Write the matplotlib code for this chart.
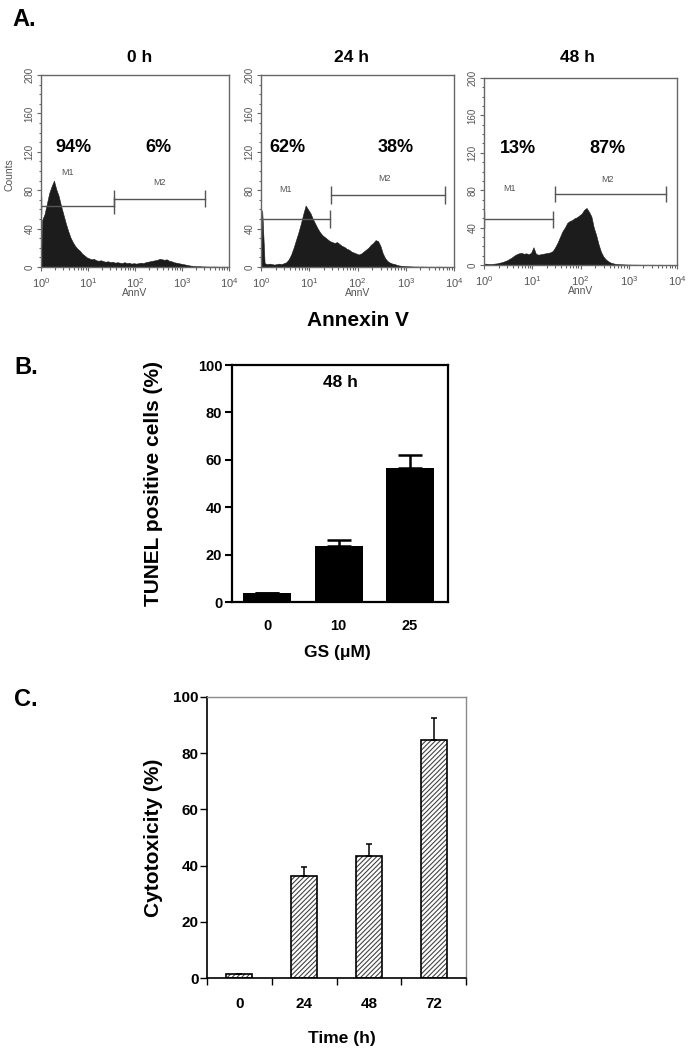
import matplotlib
matplotlib.use("Agg")
import matplotlib.pyplot as plt
import numpy as np
from matplotlib.ticker import FixedLocator, LogLocator, MultipleLocator, NullFormatter

plt.rcParams["font.family"] = ["Liberation Sans", "DejaVu Sans"]
plt.rcParams["mathtext.default"] = "regular"
plt.rcParams["hatch.linewidth"] = 0.8

W, H = 691, 1050

# ---- A: Annexin V histograms, counts per log-channel bin (0.05 decade wide, 10^0..10^4)
HIST_TITLES = ["0 h", "24 h", "48 h"]
COUNTS_0H = [
    49, 55, 66, 77, 84, 90, 81, 74, 64, 55,
    46, 38, 31, 26, 22, 19, 17, 14, 12, 10,
    9, 8, 8.5, 7, 6.5, 7, 6, 5.5, 6, 5,
    5.5, 4.5, 5, 4.5, 4, 5, 4, 4.5, 3.5, 4,
    3.5, 4, 4.5, 4, 5, 5.5, 6, 6.5, 7, 7.5,
    8.5, 8, 7.5, 8, 6.5, 6, 5, 4.5, 4, 3.5,
    3, 2.5, 2, 1.5, 1.2, 1, 0.8, 0.8, 0.6, 0.6,
    0.5, 0.5, 0.4, 0.5, 0.4, 0.4, 0.3, 0.4, 0.3, 0.3,
]
COUNTS_24H = [
    59, 4, 3, 3.5, 3, 2.5, 3, 3.5, 3, 4,
    5, 8, 13, 20, 28, 36, 45, 55, 64, 60,
    56, 50, 45, 40, 36, 33, 31, 29, 27, 26,
    25, 26, 24, 22, 21, 19, 18, 16, 15, 14,
    13, 14, 16, 18, 20, 23, 25, 28, 27, 22,
    14, 9, 6, 4.5, 3.5, 3, 2, 1.5, 1.2, 1,
    0.8, 0.7, 0.6, 0.5, 0.5, 0.4, 0.5, 0.4, 0.4, 0.3,
    0.4, 0.3, 0.3, 0.4, 0.3, 0.3, 0.3, 0.2, 0.3, 0.2,
]
COUNTS_48H = [
    1.5, 1.2, 1, 1.2, 1.5, 1.8, 2.5, 3, 4, 5,
    6.5, 8, 10, 11.5, 12.5, 13, 12, 12.5, 11.5, 13,
    19, 12, 11, 11.5, 12, 12.5, 13, 13.5, 15, 19,
    24, 30, 36, 40, 45, 47, 48, 50, 51, 53,
    55, 59, 61, 57, 52, 40, 32, 22, 14, 9,
    6, 4, 2.5, 1.8, 1.2, 1, 0.8, 0.7, 0.6, 0.5,
    0.5, 0.4, 0.4, 0.4, 0.3, 0.3, 0.3, 0.3, 0.3, 0.3,
    0.3, 0.2, 0.3, 0.3, 0.2, 0.2, 0.3, 0.2, 0.2, 0.2,
]
M1_RANGE = [(1, 35.5), (1, 27.5), (1, 27.5)]
M2_RANGE = [(35.5, 3090), (28.8, 6450), (30.2, 5890)]
M1_LEVEL = [64, 50, 49]
M2_LEVEL = [71, 75, 76]
PCT_M1 = ["94%", "62%", "13%"]
PCT_M2 = ["6%", "38%", "87%"]

# label anchor positions (AnnV units) for M1/M2 tags and percentages
M1_TAG_X = [3.7, 3.2, 3.3]
M2_TAG_X = [340, 370, 355]
M1_TAG_Y = [98, 81, 82]
M2_TAG_Y = [88, 92, 91]
PCT_M1_X = [4.8, 3.5, 5.0]
PCT_M2_X = [310, 630, 355]

# ---- B: TUNEL
GS_DOSE = ["0", "10", "25"]
TUNEL_MEAN = [4, 23.5, 56.5]
TUNEL_ERR = [0, 2.5, 5.5]

# ---- C: cytotoxicity
TIME_H = ["0", "24", "48", "72"]
CYTO_MEAN = [1.3, 36.2, 43.3, 84.6]
CYTO_ERR = [0, 3.4, 4.4, 8.0]


def fx(px):
    return px / W


def fy(py):
    return 1 - py / H


def hist_panel(fig, rect, counts, title_x, idx, show_ylabel):
    l, t, r, b = rect
    ax = fig.add_axes([fx(l), fy(b), fx(r - l), (b - t) / H])
    n = len(counts)
    centers = 10 ** ((np.arange(n) + 0.5) * 4.0 / n)
    xs = np.concatenate([[1.0], centers, [1e4]])
    ys = np.concatenate([[0], counts, [0]])
    ax.fill_between(xs, ys, 0, color="#1c1c1c", lw=0.4, edgecolor="#1c1c1c")
    ax.set_xscale("log")
    ax.set_xlim(1, 1e4)
    ax.set_ylim(0, 200)
    grey = "#666666"
    for s in ax.spines.values():
        s.set_color(grey)
        s.set_linewidth(1.0)
    ax.xaxis.set_major_locator(LogLocator(base=10, numticks=10))
    ax.xaxis.set_minor_locator(LogLocator(base=10, subs=np.arange(2, 10), numticks=10))
    ax.xaxis.set_minor_formatter(NullFormatter())
    ax.yaxis.set_major_locator(MultipleLocator(40))
    ax.yaxis.set_minor_locator(MultipleLocator(10))
    ax.tick_params(which="both", color=grey, labelcolor="#555555", labelsize=8,
                   direction="out", width=0.8)
    ax.tick_params(which="major", length=3)
    ax.tick_params(which="minor", length=1.8)
    ax.tick_params(axis="y", labelsize=7, labelrotation=90, pad=1.5)
    for lab in ax.get_yticklabels():
        lab.set_va("center")
    ax.set_xlabel("AnnV", fontsize=7.5, color="#555555", labelpad=-1)
    if show_ylabel:
        ax.set_ylabel("Counts", fontsize=7.5, color="#555555")
        ax.yaxis.set_label_coords(-0.14, 0.48)

    # gate markers
    lc = "#555555"
    for (x0, x1), y in ((M1_RANGE[idx], M1_LEVEL[idx]), (M2_RANGE[idx], M2_LEVEL[idx])):
        ax.plot([x0, x1], [y, y], color=lc, lw=1.0)
        ax.vlines([x0, x1], y - 9, y + 9, color=lc, lw=1.0)
    ax.text(M1_TAG_X[idx], M1_TAG_Y[idx], "M1", fontsize=6.5, color="#555555",
            ha="center", va="center")
    ax.text(M2_TAG_X[idx], M2_TAG_Y[idx], "M2", fontsize=6.5, color="#555555",
            ha="center", va="center")
    ax.text(PCT_M1_X[idx], 125, PCT_M1[idx], fontsize=13, fontweight="bold",
            ha="center", va="center")
    ax.text(PCT_M2_X[idx], 125, PCT_M2[idx], fontsize=13, fontweight="bold",
            ha="center", va="center")
    fig.text(fx(title_x), fy(58), HIST_TITLES[idx], fontsize=12.5, fontweight="bold",
             ha="center", va="center")
    return ax


fig = plt.figure(figsize=(W / 100, H / 100), dpi=100)

hist_panel(fig, (41, 75, 229, 267), COUNTS_0H, 140, 0, True)
hist_panel(fig, (261, 75, 454, 267), COUNTS_24H, 352, 1, False)
hist_panel(fig, (484, 78, 677, 265), COUNTS_48H, 577, 2, False)
fig.text(fx(358), fy(320), "Annexin V", fontsize=15, fontweight="bold",
         ha="center", va="center")

# panel letters
for lab, px, py in (("A.", 12, 20), ("B.", 14, 368), ("C.", 14, 700)):
    fig.text(fx(px), fy(py), lab, fontsize=17, fontweight="bold", ha="left", va="center")

# ---- B
axb = fig.add_axes([fx(232), fy(602), fx(216), 237 / H])
xb = np.arange(len(GS_DOSE))
axb.bar(xb, TUNEL_MEAN, width=0.67, color="black", zorder=2)
axb.errorbar(xb, TUNEL_MEAN, yerr=[np.zeros(len(xb)), TUNEL_ERR], fmt="none",
             ecolor="black", elinewidth=1.8, capsize=8.5, capthick=1.8, zorder=3)
axb.set_xlim(-0.49, 2.53)
axb.set_ylim(0, 100)
axb.set_xticks(xb)
axb.set_xticklabels(GS_DOSE, fontweight="bold", fontsize=10.5)
axb.set_yticks(np.arange(0, 101, 20))
axb.set_yticklabels([str(v) for v in range(0, 101, 20)], fontweight="bold", fontsize=10.5)
axb.tick_params(axis="x", length=0, pad=12)
axb.tick_params(axis="y", length=5, width=1.5, direction="out", pad=2)
for s in axb.spines.values():
    s.set_linewidth(1.6)
axb.set_ylabel("TUNEL positive cells (%)", fontsize=15, fontweight="bold")
axb.yaxis.set_label_coords(-0.32, 0.5)
axb.text(0.5, 0.925, "48 h", transform=axb.transAxes, fontsize=12.5,
         fontweight="bold", ha="center", va="center")
fig.text(fx(337), fy(653), "GS (\u03bcM)", fontsize=12.5, fontweight="bold",
         ha="center", va="center")

# ---- C
axc = fig.add_axes([fx(207), fy(978), fx(259), 281 / H])
xc = np.arange(len(TIME_H))
axc.bar(xc, CYTO_MEAN, width=0.4, facecolor="white", edgecolor="#444444",
        hatch="///////", linewidth=0, zorder=2)
axc.bar(xc, CYTO_MEAN, width=0.4, fill=False, edgecolor="black", linewidth=1.2, zorder=3)
axc.errorbar(xc, CYTO_MEAN, yerr=[np.zeros(len(xc)), CYTO_ERR], fmt="none",
             ecolor="black", elinewidth=1.1, capsize=2, capthick=1.1, zorder=4)
axc.set_xlim(-0.5, 3.5)
axc.set_ylim(0, 100)
axc.set_xticks(xc)
axc.set_xticklabels(TIME_H, fontweight="bold", fontsize=11)
axc.xaxis.set_minor_locator(FixedLocator(np.arange(-0.5, 3.6, 1.0)))
axc.tick_params(axis="x", which="major", length=0, pad=14)
axc.tick_params(axis="x", which="minor", length=5, width=1.0, direction="out")
axc.set_yticks(np.arange(0, 101, 20))
axc.set_yticklabels([str(v) for v in range(0, 101, 20)], fontweight="bold", fontsize=11)
axc.tick_params(axis="y", length=5, width=1.0, direction="out", pad=1)
axc.spines["left"].set_linewidth(1.2)
axc.spines["bottom"].set_linewidth(1.2)
for side in ("top", "right"):
    axc.spines[side].set_color("#8a8a8a")
    axc.spines[side].set_linewidth(1.0)
axc.set_ylabel("Cytotoxicity (%)", fontsize=15, fontweight="bold")
axc.yaxis.set_label_coords(-0.17, 0.5)
fig.text(fx(342), fy(1038), "Time (h)", fontsize=12.5, fontweight="bold",
         ha="center", va="center")

fig.savefig("out.png", dpi=100)
